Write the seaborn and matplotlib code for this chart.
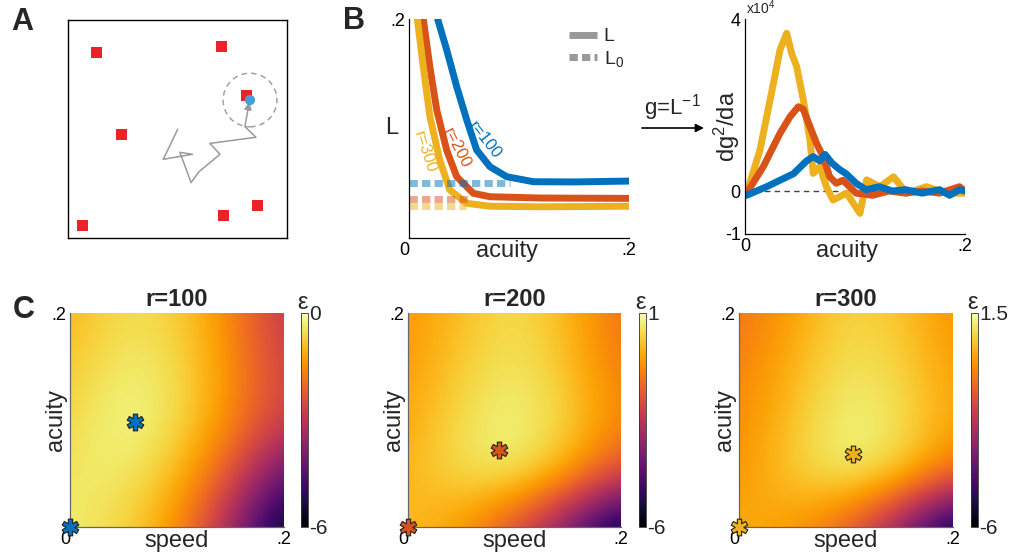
import numpy as np
import matplotlib
matplotlib.use("Agg")
import matplotlib.pyplot as plt
import seaborn as sns
from matplotlib.lines import Line2D
from matplotlib.patches import Circle
from matplotlib.path import Path

# ---------------- data ----------------
# Panel A (arena coordinates 0..1)
target_x = [0.129, 0.700, 0.243, 0.065, 0.709, 0.865, 0.816]
target_y = [0.852, 0.879, 0.476, 0.058, 0.104, 0.150, 0.654]
agent_x = [0.831]
agent_y = [0.633]
sense_radius = 0.123
path_x = [0.501, 0.435, 0.568, 0.511, 0.562, 0.598, 0.694, 0.648, 0.858, 0.808, 0.828]
path_y = [0.499, 0.361, 0.384, 0.393, 0.254, 0.304, 0.384, 0.434, 0.462, 0.511, 0.624]

# Panel B: L vs acuity
blue_a = [0.026, 0.0343, 0.0434, 0.0525, 0.0615, 0.0736, 0.0888, 0.113, 0.15, 0.2]
blue_L = [0.2, 0.1717, 0.138, 0.1078, 0.0804, 0.0651, 0.056, 0.0514, 0.0512, 0.052]
red_a = [0.013, 0.019, 0.0252, 0.0343, 0.0434, 0.0585, 0.0736, 0.12, 0.2]
red_L = [0.2, 0.156, 0.117, 0.080, 0.056, 0.0408, 0.0377, 0.0365, 0.0362]
yel_a = [0.0076, 0.013, 0.019, 0.028, 0.037, 0.0524, 0.0736, 0.12, 0.2]
yel_L = [0.2, 0.156, 0.111, 0.071, 0.044, 0.0317, 0.029, 0.0285, 0.029]
L0_values = [0.0505, 0.036, 0.0295]
L0_ends = [0.092, 0.055, 0.052]

# Panel B right: dg^2/da (x1e4)
yel2_a = [0.0015, 0.0136, 0.0258, 0.0318, 0.0379, 0.0424, 0.047, 0.053, 0.059, 0.062, 0.068,
          0.074, 0.080, 0.0924, 0.1045, 0.1106, 0.1227, 0.135, 0.147, 0.165, 0.183, 0.2]
yel2_v = [-0.05, 0.95, 2.5, 3.28, 3.67, 3.2, 2.89, 2.12, 1.19, 0.41, 0.57,
          0.1, -0.21, -0.05, -0.52, 0.26, 0.1, 0.33, -0.05, 0.1, -0.05, -0.05]
red2_a = [0.0015, 0.0167, 0.0318, 0.041, 0.0485, 0.053, 0.059, 0.065, 0.071, 0.077, 0.083,
          0.089, 0.101, 0.116, 0.131, 0.146, 0.161, 0.177, 0.195, 0.2]
red2_v = [-0.05, 0.57, 1.34, 1.73, 1.96, 1.9, 1.5, 1.11, 0.8, 0.33, 0.18,
          0.25, -0.05, -0.1, 0.0, -0.05, 0.0, -0.05, 0.1, 0.0]
blue2_a = [0.0015, 0.0197, 0.0318, 0.044, 0.056, 0.062, 0.068, 0.0727, 0.079, 0.086, 0.092,
           0.101, 0.11, 0.122, 0.134, 0.146, 0.161, 0.177, 0.186, 0.195, 0.2]
blue2_v = [-0.1, 0.1, 0.25, 0.4, 0.7, 0.8, 0.7, 0.85, 0.65, 0.5, 0.4,
           0.18, 0.03, 0.1, 0.0, 0.03, -0.05, 0.03, -0.1, 0.03, 0.0]

# Panel C: epsilon at grid nodes (rows: acuity 0, .05, .1, .15, .2; cols: speed 0 .. .2)
radii = ["r=100", "r=200", "r=300"]
eps_r100 = [[-0.3, -0.6, -1.45, -3.4, -6.0],
            [-0.42, -0.3, -0.9, -2.3, -4.3],
            [-0.6, -0.12, -0.45, -1.5, -2.75],
            [-0.78, -0.3, -0.48, -1.45, -2.7],
            [-1.02, -0.48, -0.66, -1.55, -2.95]]
eps_r200 = [[-0.05, -0.6, -1.9, -3.8, -6.0],
            [-0.19, 0.44, 0.65, -0.3, -1.9],
            [-0.4, 0.44, 0.79, 0.3, -0.85],
            [-0.54, 0.16, 0.58, 0.02, -1.1],
            [-0.61, -0.05, 0.44, -0.12, -1.24]]
eps_r300 = [[0.15, -0.2, -1.2, -3.2, -6.0],
            [-0.3, 0.6, 1.2, 0.7, -0.8],
            [-0.45, 0.45, 1.275, 0.975, 0.0],
            [-0.6, 0.225, 0.975, 0.75, -0.15],
            [-0.85, -0.075, 0.75, 0.525, -0.3]]
eps_ranges = [(-6, 0), (-6, 1), (-6, 1.5)]
eps_ticklabels = [["-6", "0"], ["-6", "1"], ["-6", "1.5"]]
opt_speed = [0.061, 0.0857, 0.1065]
opt_acuity = [0.098, 0.072, 0.068]

colors = ["#0072BD", "#D95319", "#EDB120"]

# ---------------- figure ----------------
sns.set_theme(style="white")
plt.rcParams["font.family"] = ["Liberation Sans", "DejaVu Sans"]
plt.rcParams["mathtext.fontset"] = "custom"
plt.rcParams["mathtext.rm"] = "Liberation Sans"
plt.rcParams["mathtext.it"] = "Liberation Sans"

W, H = 1011, 556
fig = plt.figure(figsize=(W / 100, H / 100), dpi=100)


def rect(l, t, r, b):
    return [l / W, 1 - b / H, (r - l) / W, (b - t) / H]


def clean(ax):
    ax.tick_params(length=0, labelsize=13, pad=3, colors="black")
    for s in ["top", "right"]:
        ax.spines[s].set_visible(False)
    for s in ["left", "bottom"]:
        ax.spines[s].set_color("black")
        ax.spines[s].set_linewidth(0.9)


def asterisk_marker(n=6, w=0.26):
    verts = []
    for k in range(n):
        th = np.pi / 2 + 2 * np.pi * k / n
        half = np.pi / n
        r_in = w / np.sin(half)
        verts.append((r_in * np.cos(th - half), r_in * np.sin(th - half)))
        d = np.array([np.cos(th), np.sin(th)])
        p = np.array([-np.sin(th), np.cos(th)])
        verts.append(tuple(d - w * p))
        verts.append(tuple(d + w * p))
    verts.append(verts[0])
    codes = [Path.MOVETO] + [Path.LINETO] * (len(verts) - 2) + [Path.CLOSEPOLY]
    return Path(verts, codes)


star = asterisk_marker()

# Panel A
axA = fig.add_axes(rect(68, 20, 287, 238))
axA.set_xlim(0, 1)
axA.set_ylim(0, 1)
axA.set_xticks([])
axA.set_yticks([])
for s in axA.spines.values():
    s.set_color("black")
    s.set_linewidth(1.0)
axA.plot(path_x[:-1], path_y[:-1], color="#9a9a9a", lw=1.1)
axA.annotate("", xy=(path_x[-1], path_y[-1]), xytext=(path_x[-2], path_y[-2]),
             arrowprops=dict(arrowstyle="-|>", color="#9a9a9a", lw=1.1, mutation_scale=11,
                             shrinkA=0, shrinkB=0))
sns.scatterplot(x=target_x, y=target_y, marker="s", s=62, color="#EC2227",
                edgecolor="none", ax=axA, zorder=3)
sns.scatterplot(x=agent_x, y=agent_y, marker="o", s=55, color="#4A9BD6",
                edgecolor="none", ax=axA, zorder=4)
axA.add_patch(Circle((agent_x[0], agent_y[0]), sense_radius, fill=False, ls=(0, (4, 3)),
                     color="#9a9a9a", lw=1.0))

# Panel B left
axB = fig.add_axes(rect(409, 19, 629, 238))
for a, L, c in [(blue_a, blue_L, colors[0]), (red_a, red_L, colors[1]), (yel_a, yel_L, colors[2])]:
    sns.lineplot(x=a, y=L, sort=False, estimator=None, color=c, lw=5, ax=axB)
for v, e, c in zip(L0_values, L0_ends, colors):
    axB.plot([0, e], [v, v], color=c, lw=5, alpha=0.5, ls=(0, (1.2, 0.6)), solid_capstyle="butt")
axB.set_xlim(0, 0.2)
axB.set_ylim(0, 0.2)
clean(axB)
axB.set_xticks([0, 0.2])
axB.set_xticklabels(["0", ".2"])
axB.get_xticklabels()[0].set_ha("right")
axB.set_yticks([0.2])
axB.set_yticklabels([".2"])
axB.set_xlabel("acuity", fontsize=17)
axB.xaxis.set_label_coords(0.445, -0.01)
axB.set_ylabel("L", fontsize=17, rotation=0, va="center", ha="center")
axB.yaxis.set_label_coords(-0.077, 0.5)
axB.text(0.069, 0.0895, "r=100", color=colors[0], fontsize=12, rotation=-52,
         rotation_mode="anchor", ha="center", va="center", zorder=5)
axB.text(0.0435, 0.082, "r=200", color=colors[1], fontsize=12, rotation=-63,
         rotation_mode="anchor", ha="center", va="center", zorder=5)
axB.text(0.0145, 0.0785, "r=300", color=colors[2], fontsize=12, rotation=-72,
         rotation_mode="anchor", ha="center", va="center", zorder=5)
handles = [Line2D([], [], color="#999999", lw=5, solid_capstyle="butt"),
           Line2D([], [], color="#999999", lw=5, ls=(0, (1.2, 0.6)), dash_capstyle="butt")]
axB.legend(handles, ["L", "L$_0$"], loc="upper left", bbox_to_anchor=((551 - 409) / 220, 1.04),
           frameon=False, fontsize=14, handlelength=1.45, handletextpad=0.35, labelspacing=0.2)

# arrow g = L^-1
fig.text(672 / W, 1 - 108 / H, "g=L$^{-1}$", fontsize=16, ha="center", va="center")
axB.annotate("", xy=(704 / W, 1 - 128 / H), xytext=(642 / W, 1 - 128 / H),
             xycoords="figure fraction", textcoords="figure fraction",
             arrowprops=dict(arrowstyle="-|>", color="black", lw=1.2, mutation_scale=12,
                             shrinkA=0, shrinkB=0), annotation_clip=False)

# Panel B right
axB2 = fig.add_axes(rect(745, 19, 965, 234))
axB2.axhline(0, color="#444444", lw=1.0, ls=(0, (4, 3)), zorder=0)
for a, v, c in [(yel2_a, yel2_v, colors[2]), (red2_a, red2_v, colors[1]), (blue2_a, blue2_v, colors[0])]:
    sns.lineplot(x=a, y=v, sort=False, estimator=None, color=c, lw=5, ax=axB2)
axB2.set_xlim(0, 0.2)
axB2.set_ylim(-1, 4)
clean(axB2)
axB2.set_xticks([0, 0.2])
axB2.set_xticklabels(["0", ".2"])
axB2.set_yticks([-1, 0, 4])
axB2.set_yticklabels(["-1", "0", "4"])
axB2.set_xlabel("acuity", fontsize=17)
axB2.xaxis.set_label_coords(0.465, -0.03)
axB2.set_ylabel("dg$^2$/da", fontsize=17)
axB2.yaxis.set_label_coords(-0.012, 0.5)
fig.text(746 / W, 1 - 8 / H, "x10$^4$", fontsize=10, ha="left", va="center")

# Panel C
c_axes = [(70, 284, 301, 308), (408, 621, 639, 646), (739, 953, 971, 978)]
grids = [eps_r100, eps_r200, eps_r300]
half = 0.025
for i, ((l, r, cl, cr), grid, (vmin, vmax), tl) in enumerate(zip(c_axes, grids, eps_ranges, eps_ticklabels)):
    ax = fig.add_axes(rect(l, 313, r, 527))
    im = ax.imshow(np.array(grid), origin="lower", extent=[-half, 0.2 + half, -half, 0.2 + half],
                   cmap="inferno", vmin=vmin, vmax=vmax, interpolation="bicubic", aspect="auto")
    ax.set_xlim(0, 0.2)
    ax.set_ylim(0, 0.2)
    clean(ax)
    for s in ["left", "bottom"]:
        ax.spines[s].set_color("#666666")
    ax.set_xticks([0, 0.2])
    ax.set_xticklabels(["0", ".2"])
    ax.get_xticklabels()[0].set_ha("right")
    ax.set_yticks([0.2])
    ax.set_yticklabels([".2"])
    ax.set_xlabel("speed", fontsize=17)
    ax.xaxis.set_label_coords(0.5, -0.015)
    ax.set_ylabel("acuity", fontsize=17)
    ax.yaxis.set_label_coords(-0.012, 0.5)
    ax.set_title(radii[i], fontsize=17, fontweight="bold", pad=5)
    for sx, sy in [(opt_speed[i], opt_acuity[i]), (0, 0)]:
        ax.plot([sx], [sy], marker=star, ms=12, color=colors[i], mec="#222222",
                mew=0.8, clip_on=False, zorder=5)
    cax = fig.add_axes(rect(cl, 313, cr, 527))
    cb = fig.colorbar(im, cax=cax, ticks=[vmin, vmax])
    cb.ax.set_yticklabels(tl)
    cb.ax.tick_params(length=0, labelsize=15, pad=1)
    cb.outline.set_linewidth(0.6)
    cb.outline.set_edgecolor("#333333")
    fig.text((cl + 1) / W, 1 - 303 / H, "ε", fontsize=17, ha="center", va="center")

# Panel letters
fig.text(22 / W, 1 - 22 / H, "A", fontsize=22, fontweight="bold", ha="center", va="center")
fig.text(354 / W, 1 - 21 / H, "B", fontsize=22, fontweight="bold", ha="center", va="center")
fig.text(24 / W, 1 - 310 / H, "C", fontsize=22, fontweight="bold", ha="center", va="center")

fig.savefig("out.png", dpi=100)
